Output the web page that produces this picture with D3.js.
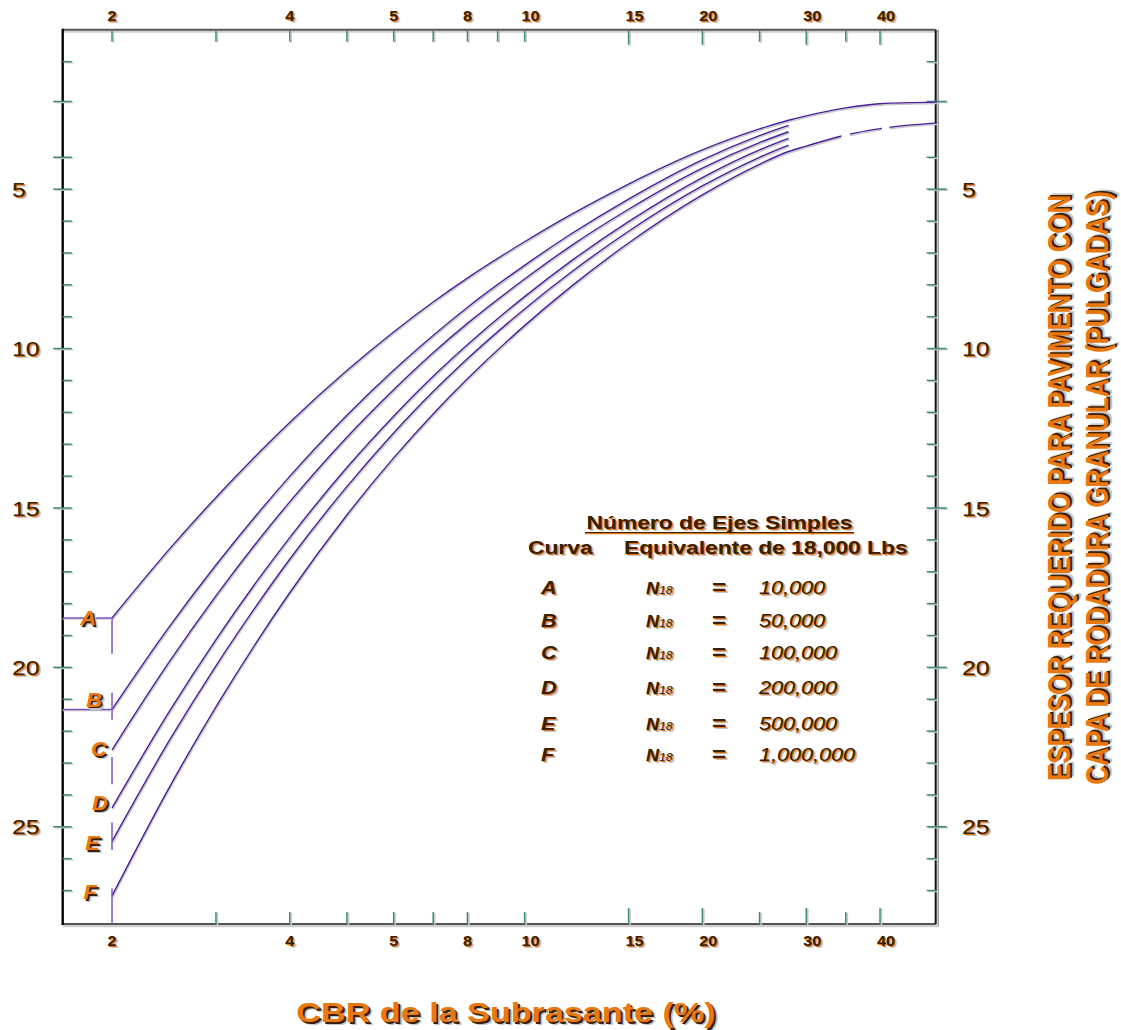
<!DOCTYPE html>
<html><head><meta charset="utf-8">
<script src="https://cdn.jsdelivr.net/npm/d3@7"></script>
<style>
html,body{margin:0;padding:0;background:#fff;}
svg{display:block;}
</style></head>
<body>
<svg id="chart" width="1121" height="1030"></svg>
<script>
// CBR of the subgrade (%) at which each design curve is tabulated
const cbr = [2, 2.5, 3, 3.5, 4, 5, 6, 7, 8, 10, 12, 15, 20, 25, 28];
const cbrTail = [30, 35, 40, 50];
// Required thickness (inches) for each traffic level
const curveA = [18.45, 16.30, 14.67, 13.38, 12.32, 10.69, 9.48, 8.54, 7.79, 6.65, 5.79, 4.84, 3.77, 3.11, 2.84];
const curveATail = [2.70, 2.45, 2.32, 2.27];
const curveB = [21.32, 18.73, 16.79, 15.26, 14.01, 12.09, 10.68, 9.59, 8.71, 7.39, 6.40, 5.31, 4.08, 3.32, 3.00];
const curveC = [22.59, 19.83, 17.76, 16.13, 14.81, 12.78, 11.29, 10.13, 9.21, 7.82, 6.77, 5.63, 4.34, 3.54, 3.20];
const curveD = [24.41, 21.39, 19.13, 17.36, 15.93, 13.73, 12.12, 10.87, 9.88, 8.37, 7.25, 6.02, 4.64, 3.77, 3.41];
const curveE = [25.46, 22.30, 19.95, 18.11, 16.61, 14.33, 12.65, 11.35, 10.32, 8.76, 7.60, 6.32, 4.90, 4.00, 3.62];
const curveF = [27.17, 23.77, 21.24, 19.26, 17.66, 15.22, 13.43, 12.05, 10.95, 9.28, 8.05, 6.69, 5.18, 4.22, 3.82];
const curveFTail = [3.65, 3.30, 3.10, 2.92];
// Broken (dashed) stretches of curve F, as CBR ranges that are drawn
const curveFRuns = [[1.9, 34.4], [35.6, 40.3], [41.5, 50]];

// Curve names and equivalent 18,000 lb single axle loads
const curveNames = ["A", "B", "C", "D", "E", "F"];
const esalText = ["10,000", "50,000", "100,000", "200,000", "500,000", "1,000,000"];

// Short vertical drop segments at CBR = 2 (inches from / to)
const dropCurves = ["A", "B", "C", "E", "F"];
const dropFrom = [18.45, 20.8, 22.81, 24.87, 26.94];
const dropTo = [19.57, 21.64, 23.67, 25.73, 28.05];
// Horizontal leaders from the thickness axis to the start of curves A and B
const leaderCurves = ["A", "B"];
const leaderAt = [18.45, 21.32];

// Axis ticks
const xTicksTop = [2, 3, 4, 5, 6, 7, 8, 9, 10, 15, 20, 25, 30, 35, 40];
const xTicksBottom = [3, 4, 5, 6, 7, 8, 10, 15, 20, 25, 30, 35, 40];
const xTicksLong = [15, 20, 30, 40];
const xLabelAt = [2, 4, 6, 8, 10, 15, 20, 30, 40];
const xLabelText = ["2", "4", "5", "8", "10", "15", "20", "30", "40"];
const yMajor = [5, 10, 15, 20, 25];
const yMinor = [1, 2.25, 4, 6, 7, 8, 9, 11, 12, 13, 14, 16, 17, 18, 19, 21, 22, 23, 24, 26, 27];
const yLongLeft = [2.25, 4];
const yLongRight = [2.25];

// ---------------------------------------------------------------
const svg = d3.select("#chart");
const X0 = 62.7, X1 = 935.7, Y0 = 29.75, Y1 = 924;
const x = d3.scaleLog().domain([1.65, 49.7]).range([X0, X1]);
const y = d3.scaleLinear().domain([0, 28.05]).range([Y0, Y1]);

const ORANGE = "#e8780f", DARK = "#3a2000", GREY = "#c4c4c4";
const PURPLE = "#4a1d98", PURPLE_LIGHT = "#7b55bd", TEAL = "#3f8c7c";
const FONT = "'Liberation Sans', Arial, Helvetica, sans-serif";

// Embossed look: the face is drawn over offset copies of the same text
const faceOrange = [{fill: GREY, dx: 3, dy: 3}, {fill: DARK, dx: 1.6, dy: 1.6}, {fill: ORANGE, dx: 0, dy: 0}];
const faceDark = [{fill: GREY, dx: 2, dy: 2}, {fill: ORANGE, dx: 1, dy: 1}, {fill: DARK, dx: 0, dy: 0}];

function label(parent, o) {
  let tr = `translate(${o.x},${o.y})`;
  if (o.rotate) tr += ` rotate(${o.rotate})`;
  tr += ` scale(${o.sx || 1},${o.sy || 1})`;
  const g = parent.append("g").attr("transform", tr);
  o.layers.forEach(l => {
    const t = g.append("text")
      .attr("x", l.dx).attr("y", l.dy)
      .attr("fill", l.fill)
      .attr("font-family", FONT)
      .attr("font-size", o.size)
      .attr("font-weight", o.weight || "normal")
      .attr("font-style", o.style || "normal")
      .attr("text-anchor", o.anchor || "start")
      .attr("dy", o.dy || 0);
    if (o.parts) {
      o.parts.forEach(p => t.append("tspan").attr("font-size", p.size || o.size)
        .attr("font-weight", p.weight || o.weight || "normal").text(p.text));
    } else {
      t.text(o.text);
    }
  });
  return g;
}

// ---------------- frame ----------------
const frame = svg.append("g");
frame.append("line").attr("x1", X0).attr("x2", X1 + 2).attr("y1", Y0 + 2).attr("y2", Y0 + 2)
  .attr("stroke", "#cfcfcf").attr("stroke-width", 2);
frame.append("line").attr("x1", X0).attr("x2", X1).attr("y1", Y0).attr("y2", Y0)
  .attr("stroke", "#555").attr("stroke-width", 2);
frame.append("line").attr("x1", X0).attr("x2", X1 + 3).attr("y1", Y1 + 2).attr("y2", Y1 + 2)
  .attr("stroke", "#cfcfcf").attr("stroke-width", 2.5);
frame.append("line").attr("x1", X0).attr("x2", X1).attr("y1", Y1).attr("y2", Y1)
  .attr("stroke", "#555").attr("stroke-width", 2);
frame.append("line").attr("x1", X1 + 2.5).attr("x2", X1 + 2.5).attr("y1", Y0).attr("y2", Y1 + 2)
  .attr("stroke", "#9a9a9a").attr("stroke-width", 1.5);
frame.append("line").attr("x1", X1).attr("x2", X1).attr("y1", Y0).attr("y2", Y1)
  .attr("stroke", "#111").attr("stroke-width", 2);
frame.append("line").attr("x1", X0).attr("x2", X0).attr("y1", Y0 - 1).attr("y2", Y1 + 1)
  .attr("stroke", "#000").attr("stroke-width", 2.4);

// ---------------- ticks ----------------
const ticks = svg.append("g");
function tick(x1, y1, x2, y2) {
  ticks.append("line").attr("x1", x1 + 1.5).attr("y1", y1 + 1).attr("x2", x2 + 1.5).attr("y2", y2 + 1)
    .attr("stroke", "#c8c8c8").attr("stroke-width", 1.6);
  ticks.append("line").attr("x1", x1).attr("y1", y1).attr("x2", x2).attr("y2", y2)
    .attr("stroke", TEAL).attr("stroke-width", 1.5);
}
xTicksTop.forEach(v => {
  const len = xTicksLong.includes(v) ? 14 : 11;
  tick(x(v), Y0 + 1, x(v), Y0 + 1 + len);
});
xTicksBottom.forEach(v => {
  const len = xTicksLong.includes(v) ? 16 : 12;
  tick(x(v), Y1, x(v), Y1 - len);
});
yMajor.forEach(v => {
  tick(X0 - 9.5, y(v), X0 + 9, y(v));
  tick(X1 - 9, y(v), X1 + 11, y(v));
});
yMinor.forEach(v => {
  tick(yLongLeft.includes(v) ? X0 - 9.5 : X0, y(v), X0 + 9, y(v));
  tick(X1 - 9, y(v), yLongRight.includes(v) ? X1 + 11 : X1, y(v));
});

// ---------------- tick labels ----------------
const tl = svg.append("g");
xLabelAt.forEach((v, i) => {
  const t = xLabelText[i];
  const cx = x(v) + (t.length > 1 ? 6 : 0);
  label(tl, {x: cx, y: 20.5, text: t, size: 15, weight: "bold", anchor: "middle", sx: 1.08, layers: faceDark});
  label(tl, {x: cx, y: 946, text: t, size: 15, weight: "bold", anchor: "middle", sx: 1.08, layers: faceDark});
});
yMajor.forEach(v => {
  label(tl, {x: 12, y: y(v), dy: "0.36em", text: String(v), size: 21, sx: 1.18, layers: faceDark});
  label(tl, {x: 962, y: y(v), dy: "0.36em", text: String(v), size: 21, sx: 1.18, layers: faceDark});
});

// ---------------- curves ----------------
const line = d3.line().x(d => x(d[0])).y(d => y(d[1])).curve(d3.curveMonotoneX);
const pts = (xs, ys) => xs.map((c, i) => [c, ys[i]]);
const series = [
  {name: "A", points: pts(cbr, curveA).concat(pts(cbrTail, curveATail))},
  {name: "B", points: pts(cbr, curveB)},
  {name: "C", points: pts(cbr, curveC)},
  {name: "D", points: pts(cbr, curveD)},
  {name: "E", points: pts(cbr, curveE)},
  {name: "F", points: pts(cbr, curveF).concat(pts(cbrTail, curveFTail)), runs: curveFRuns}
];

const defs = svg.append("defs");
const plot = svg.append("g");
series.forEach(s => {
  const g = plot.append("g");
  if (s.runs) {
    const cp = defs.append("clipPath").attr("id", "runs-" + s.name);
    s.runs.forEach(r => cp.append("rect")
      .attr("x", x(r[0])).attr("width", x(r[1]) - x(r[0]))
      .attr("y", 0).attr("height", 1030));
    g.attr("clip-path", `url(#runs-${s.name})`);
  }
  g.append("path").attr("d", line(s.points)).attr("fill", "none")
    .attr("transform", "translate(0.8,1.4)")
    .attr("stroke", "#c9c9c9").attr("stroke-width", 1.6);
  g.append("path").attr("d", line(s.points)).attr("fill", "none")
    .attr("stroke", PURPLE).attr("stroke-width", 1.4);
});

// drop segments and leaders at CBR = 2
dropCurves.forEach((c, i) => {
  plot.append("line").attr("x1", x(2)).attr("x2", x(2))
    .attr("y1", y(dropFrom[i])).attr("y2", y(dropTo[i]))
    .attr("stroke", PURPLE_LIGHT).attr("stroke-width", 1.5);
});
leaderCurves.forEach((c, i) => {
  plot.append("line").attr("x1", X0).attr("x2", x(2))
    .attr("y1", y(leaderAt[i]) + 1.2).attr("y2", y(leaderAt[i]) + 1.2)
    .attr("stroke", "#c9c9c9").attr("stroke-width", 1.4);
  plot.append("line").attr("x1", X0).attr("x2", x(2))
    .attr("y1", y(leaderAt[i])).attr("y2", y(leaderAt[i]))
    .attr("stroke", PURPLE_LIGHT).attr("stroke-width", 1.5);
});

// curve letters beside the start of each curve
const letterShift = [-31.8, -25.8, -21.1, -20.1, -26.8, -28.5];
const letterBase = [18.68, 21.24, 22.79, 24.48, 25.74, 27.28];
curveNames.forEach((n, i) => {
  label(plot, {x: x(2) + letterShift[i], y: y(letterBase[i]), text: n, size: 20,
    weight: "bold", style: "italic", sx: 1.1, layers: faceOrange});
});

// ---------------- legend ----------------
const lg = svg.append("g");
label(lg, {x: 719.5, y: 529, text: "Número de Ejes Simples", size: 19, weight: "bold",
  anchor: "middle", sx: 1.2, layers: faceDark});
lg.append("line").attr("x1", 585).attr("x2", 854).attr("y1", 533.5).attr("y2", 533.5)
  .attr("stroke", ORANGE).attr("stroke-width", 1.3);
lg.append("line").attr("x1", 585).attr("x2", 854).attr("y1", 532.5).attr("y2", 532.5)
  .attr("stroke", DARK).attr("stroke-width", 1.2);
label(lg, {x: 528, y: 554, text: "Curva", size: 19, weight: "bold", sx: 1.2, layers: faceDark});
label(lg, {x: 624, y: 554, text: "Equivalente de 18,000 Lbs", size: 19, weight: "bold", sx: 1.2, layers: faceDark});

const rowBase = [594, 627, 659, 694, 730, 761];
curveNames.forEach((n, i) => {
  const by = rowBase[i];
  label(lg, {x: 541, y: by, text: n, size: 18, weight: "bold", style: "italic", sx: 1.2, layers: faceDark});
  label(lg, {x: 646, y: by, size: 16, weight: "bold", style: "italic", sx: 1.12, layers: faceDark,
    parts: [{text: "N"}, {text: "18", size: 11, weight: "normal"}]});
  label(lg, {x: 719, y: by, text: "=", size: 20, weight: "bold", anchor: "middle", sx: 1.2, layers: faceDark});
  label(lg, {x: 759, y: by, text: esalText[i], size: 18, style: "italic", sx: 1.2, layers: faceDark});
});

// ---------------- axis titles ----------------
label(svg, {x: 506, y: 1022, text: "CBR de la Subrasante (%)", size: 28, weight: "bold",
  anchor: "middle", sx: 1.22, layers: faceOrange});
label(svg, {x: 1070, y: 488, rotate: -90, sy: 1.2, text: "ESPESOR REQUERIDO PARA PAVIMENTO CON",
  size: 25.8, weight: "bold", anchor: "middle", layers: faceOrange});
label(svg, {x: 1108, y: 488, rotate: -90, sy: 1.2, text: "CAPA DE RODADURA GRANULAR (PULGADAS)",
  size: 25.8, weight: "bold", anchor: "middle", layers: faceOrange});
</script>
</body></html>
